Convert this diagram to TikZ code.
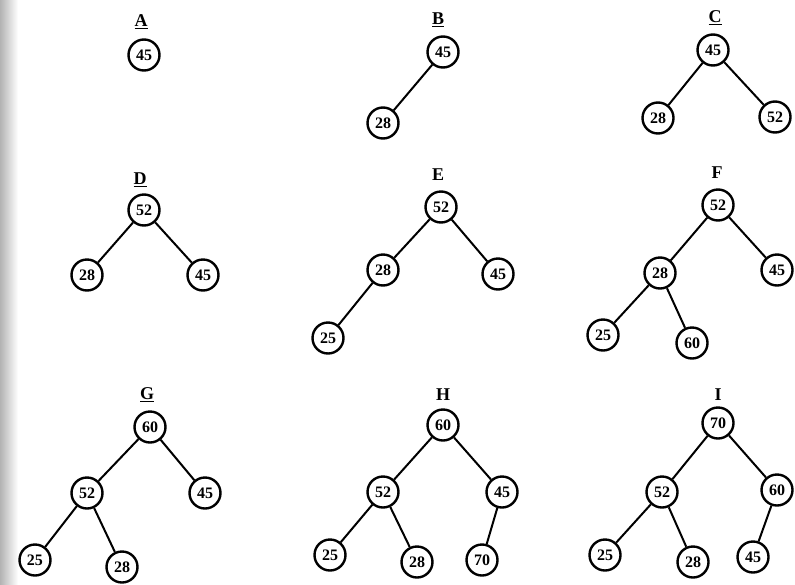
\documentclass[tikz,border=0pt]{standalone}
\usepackage{fontspec}
\setmainfont{Liberation Serif}
\begin{document}
\begin{tikzpicture}[x=1pt,y=-1pt,
  nd/.style={circle,draw,line width=2.4pt,minimum size=31pt,inner sep=0pt,
    font=\fontsize{16}{16}\selectfont\bfseries},
  lbl/.style={font=\fontsize{18}{18}\selectfont\bfseries,inner sep=0pt},
  ed/.style={line width=2pt}]
\useasboundingbox (0,0) rectangle (795,584);
\shade[left color=black!30,right color=white] (0,0) rectangle (18,584);
% A
\node[lbl] (la) at (141,22) {\underline{A}};
\node[nd] (a1) at (144,55) {45};
% B
\node[lbl] (lb) at (438,20) {\underline{B}};
\node[nd] (b1) at (443,52) {45};
\node[nd] (b2) at (383,123) {28};
\draw[ed] (b1) -- (b2);
% C
\node[lbl] (lc) at (715,18) {\underline{C}};
\node[nd] (c1) at (713,50) {45};
\node[nd] (c2) at (658,118) {28};
\node[nd] (c3) at (775,117) {52};
\draw[ed] (c1) -- (c2) (c1) -- (c3);
% D
\node[lbl] (ld) at (140,180) {\underline{D}};
\node[nd] (d1) at (144,210) {52};
\node[nd] (d2) at (87,275) {28};
\node[nd] (d3) at (203,275) {45};
\draw[ed] (d1) -- (d2) (d1) -- (d3);
% E
\node[lbl] (le) at (438,175) {E};
\node[nd] (e1) at (441,207) {52};
\node[nd] (e2) at (383,270) {28};
\node[nd] (e3) at (498,274) {45};
\node[nd] (e4) at (328,338) {25};
\draw[ed] (e1) -- (e2) (e1) -- (e3) (e2) -- (e4);
% F
\node[lbl] (lf) at (717,173) {F};
\node[nd] (f1) at (718,205) {52};
\node[nd] (f2) at (660,273) {28};
\node[nd] (f3) at (777,270) {45};
\node[nd] (f4) at (603,335) {25};
\node[nd] (f5) at (692,343) {60};
\draw[ed] (f1) -- (f2) (f1) -- (f3) (f2) -- (f4) (f2) -- (f5);
% G
\node[lbl] (lg) at (147,395) {\underline{G}};
\node[nd] (g1) at (150,427) {60};
\node[nd] (g2) at (87,493) {52};
\node[nd] (g3) at (205,493) {45};
\node[nd] (g4) at (35,560) {25};
\node[nd] (g5) at (122,567) {28};
\draw[ed] (g1) -- (g2) (g1) -- (g3) (g2) -- (g4) (g2) -- (g5);
% H
\node[lbl] (lh) at (443,395) {H};
\node[nd] (h1) at (443,425) {60};
\node[nd] (h2) at (383,492) {52};
\node[nd] (h3) at (502,492) {45};
\node[nd] (h4) at (330,555) {25};
\node[nd] (h5) at (417,562) {28};
\node[nd] (h6) at (482,560) {70};
\draw[ed] (h1) -- (h2) (h1) -- (h3) (h2) -- (h4) (h2) -- (h5) (h3) -- (h6);
% I
\node[lbl] (li) at (718,395) {I};
\node[nd] (i1) at (718,423) {70};
\node[nd] (i2) at (662,492) {52};
\node[nd] (i3) at (777,490) {60};
\node[nd] (i4) at (605,555) {25};
\node[nd] (i5) at (693,562) {28};
\node[nd] (i6) at (753,557) {45};
\draw[ed] (i1) -- (i2) (i1) -- (i3) (i2) -- (i4) (i2) -- (i5) (i3) -- (i6);
\end{tikzpicture}
\end{document}
